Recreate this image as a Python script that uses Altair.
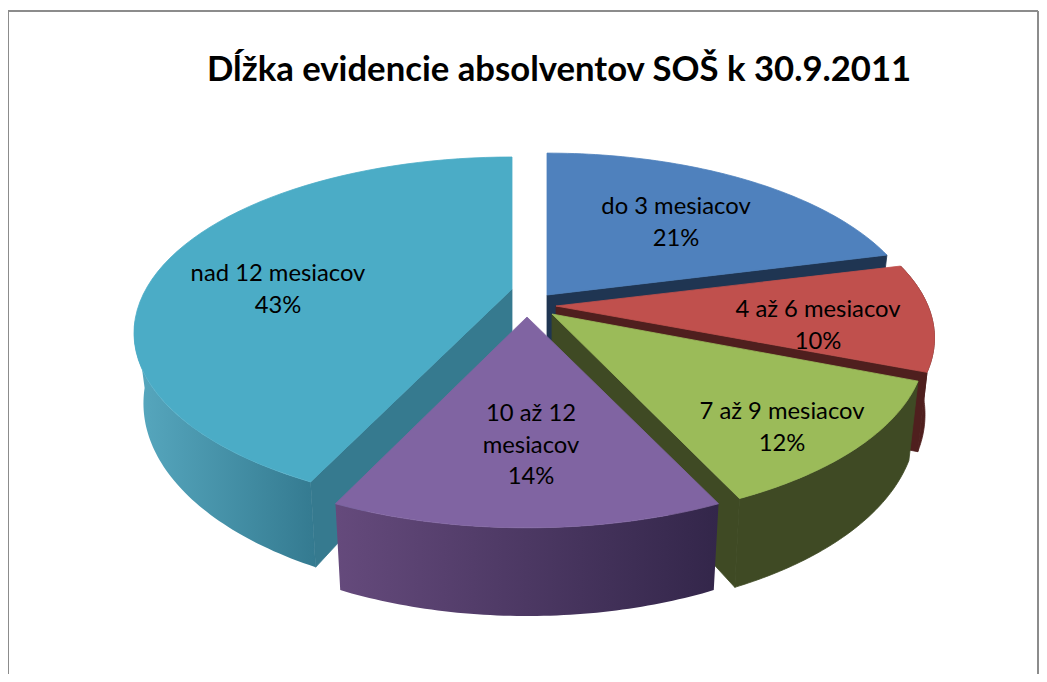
import numpy as np
import pandas as pd
import altair as alt

# ---- data ----
categories = ["do 3 mesiacov", "4 až 6 mesiacov", "7 až 9 mesiacov", "10 až 12 mesiacov", "nad 12 mesiacov"]
shares = [21, 10, 12, 14, 43]
label_text = ["do 3 mesiacov", "4 až 6 mesiacov", "7 až 9 mesiacov", "10 až 12\nmesiacov", "nad 12 mesiacov"]
title_text = "Dĺžka evidencie absolventov SOŠ  k 30.9.2011"

# ---- styling ----
top_colors = ["#4f81bd", "#c0504d", "#9bbb59", "#8064a2", "#4bacc6"]
wall_colors = ["#1f3552", "#4f1f1e", "#3f4a24", "#3b2d52", "#367a8f"]

# ---- layout of the tilted, exploded pie (page pixels minus the 8px margin) ----
W, H = 1031, 666
M = 8
apex_x = [547 - M, 556 - M, 552 - M, 527 - M, 512 - M]
apex_y = [295 - M, 306 - M, 314 - M, 317 - M, 289 - M]
radius_x = [367, 372, 367, 375, 366]
radius_y = [168, 168, 170, 172, 165]
persp = [0.184, 0.184, 0.184, 0.184, 0.25]
depth = [74, 74, 74, 72, 66]
shrink = 0.975
label_x = [676, 818, 782, 531, 278]
label_y = [207, 310, 412, 414, 274]


def rim(i, t0, t1, n=60):
    th = np.radians(np.linspace(t0, t1, n))
    X, Y = np.sin(th), np.cos(th)
    s = 1 / (1 + persp[i] * Y)
    ax, ay = apex_x[i], apex_y[i]
    tx = ax + radius_x[i] * X * s
    ty = ay - radius_y[i] * Y * s
    bx = ax + radius_x[i] * X * s * shrink
    by = ty + depth[i] * s
    return tx, ty, bx, by


def poly(xs, ys, fill, stroke=None):
    df = pd.DataFrame({"x": xs, "y": ys, "i": range(len(xs))})
    return alt.Chart(df).mark_line(
        fill=fill, stroke=stroke or "transparent", strokeWidth=0.8 if stroke else 0,
        clip=True,
    ).encode(
        x=alt.X("x:Q", axis=None, scale=alt.Scale(domain=[0, W])),
        y=alt.Y("y:Q", axis=None, scale=alt.Scale(domain=[H, 0])),
        order="i:Q",
    )


def grad(c0, c1):
    return alt.LinearGradient(
        gradient="linear", x1=0, y1=0, x2=1, y2=0,
        stops=[alt.GradientStop(color=c0, offset=0), alt.GradientStop(color=c1, offset=1)],
    )


edges = np.concatenate([[0], np.cumsum(shares)]) * 3.6


def top(i):
    tx, ty, _, _ = rim(i, edges[i], edges[i + 1])
    return poly(np.r_[apex_x[i], tx, apex_x[i]], np.r_[apex_y[i], ty, apex_y[i]], top_colors[i], top_colors[i])


def rim_wall(i, fill, t0=None, t1=None, stroke=None):
    tx, ty, bx, by = rim(i, edges[i] if t0 is None else t0, edges[i + 1] if t1 is None else t1)
    return poly(np.r_[tx, bx[::-1], tx[0]], np.r_[ty, by[::-1], ty[0]], fill, stroke)


def radial_wall(i, angle, fill):
    tx, ty, bx, by = rim(i, angle, angle, 1)
    ax, ay = apex_x[i], apex_y[i]
    return poly([ax, tx[0], bx[0], ax, ax], [ay, ty[0], by[0], ay + depth[i], ay], fill, fill)


layers = [
    # blue
    radial_wall(0, edges[1], wall_colors[0]),
    top(0),
    # cyan
    rim_wall(4, grad("#57a8bf", "#347a90"), edges[4], 260),
    radial_wall(4, edges[4], wall_colors[4]),
    top(4),
    # red
    rim_wall(1, wall_colors[1], stroke=wall_colors[1]),
    radial_wall(1, edges[2], wall_colors[1]),
    top(1),
    # green
    rim_wall(2, wall_colors[2], stroke=wall_colors[2]),
    radial_wall(2, edges[3], wall_colors[2]),
    top(2),
    # purple
    rim_wall(3, grad("#654a7c", "#33264a")),
    top(3),
]

labels = pd.DataFrame({
    "x": [v - M for v in label_x],
    "y": [v - M for v in label_y],
    "t": [f"{c}\n{s}%" for c, s in zip(label_text, shares)],
})
text = alt.Chart(labels).mark_text(
    font="Lato", fontSize=23.8, color="#000000", lineBreak="\n", lineHeight=31.5, align="center", baseline="middle",
).encode(
    x=alt.X("x:Q", axis=None, scale=alt.Scale(domain=[0, W])),
    y=alt.Y("y:Q", axis=None, scale=alt.Scale(domain=[H, 0])),
    text="t:N",
)

frame_color = "#8c8c8c"
frame = [
    alt.Chart(pd.DataFrame({"a": [0]})).mark_rule(color=frame_color, strokeWidth=2).encode(
        x=alt.value(0), x2=alt.value(W - 1), y=alt.value(3)),
    alt.Chart(pd.DataFrame({"a": [0]})).mark_rule(color=frame_color, strokeWidth=2).encode(
        x=alt.value(0), y=alt.value(3), y2=alt.value(H)),
    alt.Chart(pd.DataFrame({"a": [0]})).mark_rule(color=frame_color, strokeWidth=2).encode(
        x=alt.value(W - 1), y=alt.value(3), y2=alt.value(H)),
]

chart = alt.layer(*frame, *layers, text).properties(
    width=W, height=H, padding=0, autosize=alt.AutoSizeParams(type="none"),
    background="#ffffff",
    title=alt.TitleParams(
        text=title_text, font="Lato", fontSize=34.7, fontWeight="bold", color="#000000",
        anchor="start", frame="group", dx=199, dy=108, offset=0, baseline="alphabetic",
    ),
).configure_view(stroke=None)

chart.save("out.html", embed_options={"renderer": "svg", "actions": False})
